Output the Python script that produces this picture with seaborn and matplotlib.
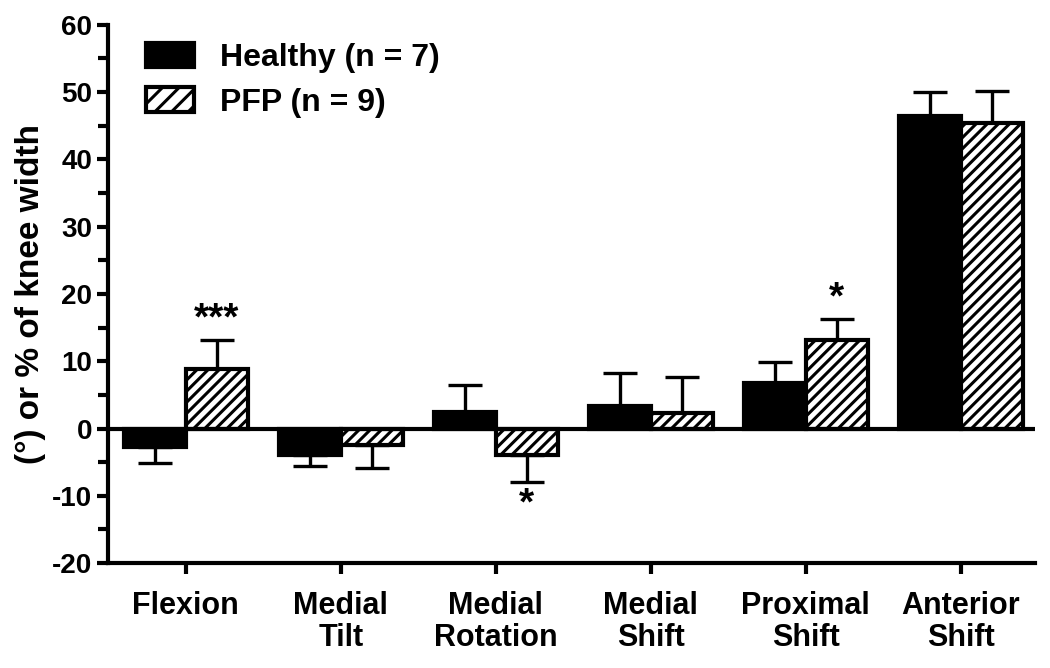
import pandas as pd
import seaborn as sns
import matplotlib.pyplot as plt
from matplotlib.patches import Patch
from matplotlib.ticker import MultipleLocator

# values
categories = ['Flexion', 'Medial\nTilt', 'Medial\nRotation', 'Medial\nShift',
              'Proximal\nShift', 'Anterior\nShift']
groups = ['Healthy (n = 7)', 'PFP (n = 9)']
healthy_mean = [-2.8, -4.0, 2.4, 3.3, 6.8, 46.5]
healthy_sem = [2.3, 1.6, 4.1, 4.9, 3.1, 3.5]
pfp_mean = [8.8, -2.4, -4.0, 2.3, 13.2, 45.4]
pfp_sem = [4.4, 3.4, 4.0, 5.4, 3.1, 4.7]
# significance marks on the PFP bars
pfp_marks = ['***', '', '*', '', '*', '']

df = pd.DataFrame({
    'joint': categories * 2,
    'group': [groups[0]] * 6 + [groups[1]] * 6,
    'value': healthy_mean + pfp_mean,
})

sns.set_theme(style='ticks')
plt.rcParams['font.family'] = ['Liberation Sans', 'DejaVu Sans']
plt.rcParams['font.weight'] = 'bold'
plt.rcParams['axes.unicode_minus'] = False
plt.rcParams['hatch.linewidth'] = 2.2
for key in ['text.color', 'axes.labelcolor', 'xtick.color', 'ytick.color',
            'axes.edgecolor']:
    plt.rcParams[key] = 'black'

fig, ax = plt.subplots(figsize=(10.5, 6.68), dpi=100)
fig.subplots_adjust(left=0.103, right=0.986, top=0.963, bottom=0.157)

sns.barplot(data=df, x='joint', y='value', hue='group', order=categories,
            hue_order=groups, palette=['black', 'white'], errorbar=None,
            width=0.8, ax=ax, legend=False, zorder=2)

bars = ax.patches
for i, p in enumerate(bars):
    p.set_edgecolor('black')
    p.set_linewidth(3)
    if i >= len(categories):
        p.set_hatch('///')

# one-sided error bars pointing away from zero
for k, (means, sems) in enumerate([(healthy_mean, healthy_sem), (pfp_mean, pfp_sem)]):
    for j, (m, s) in enumerate(zip(means, sems)):
        p = bars[k * len(categories) + j]
        x = p.get_x() + p.get_width() / 2
        yerr = [[0], [s]] if m >= 0 else [[s], [0]]
        ax.errorbar(x, m, yerr=yerr, fmt='none', ecolor='black',
                    elinewidth=2.4, capsize=12, capthick=2.4, zorder=1)
        if k == 1 and pfp_marks[j]:
            if m >= 0:
                ax.text(x, m + s + 0.3, pfp_marks[j], ha='center', va='bottom',
                        fontsize=28, fontweight='bold')
            else:
                ax.text(x, m - s - 0.6, pfp_marks[j], ha='center', va='top',
                        fontsize=28, fontweight='bold')

ax.axhline(0, color='black', lw=3, zorder=3)

ax.set_ylim(-20, 60)
ax.set_xlim(-0.5, 5.48)
ax.yaxis.set_major_locator(MultipleLocator(10))
ax.yaxis.set_minor_locator(MultipleLocator(5))
ax.tick_params(axis='both', which='major', length=8, width=3, labelsize=20,
               direction='out')
ax.tick_params(axis='y', which='minor', length=7, width=3)
ax.tick_params(axis='x', pad=12, labelsize=22)
for lab in ax.get_xticklabels() + ax.get_yticklabels():
    lab.set_fontweight('bold')
for lab in ax.get_xticklabels():
    lab.set_va('top')
    lab.set_linespacing(1.1)

ax.set_xlabel('')
ax.set_ylabel('(°) or % of knee width', fontsize=24, fontweight='bold',
              labelpad=4)

sns.despine(ax=ax)
for side in ['left', 'bottom']:
    ax.spines[side].set_linewidth(3)

handles = [Patch(facecolor='black', edgecolor='black', lw=3),
           Patch(facecolor='white', edgecolor='black', lw=3, hatch='//')]
ax.legend(handles, groups, loc='upper left', bbox_to_anchor=(0.01, 1.02),
          frameon=False, handlelength=1.5, handleheight=0.8,
          handletextpad=0.8, labelspacing=0.45,
          prop={'weight': 'bold', 'size': 23})

fig.savefig('out.png', dpi=100)
